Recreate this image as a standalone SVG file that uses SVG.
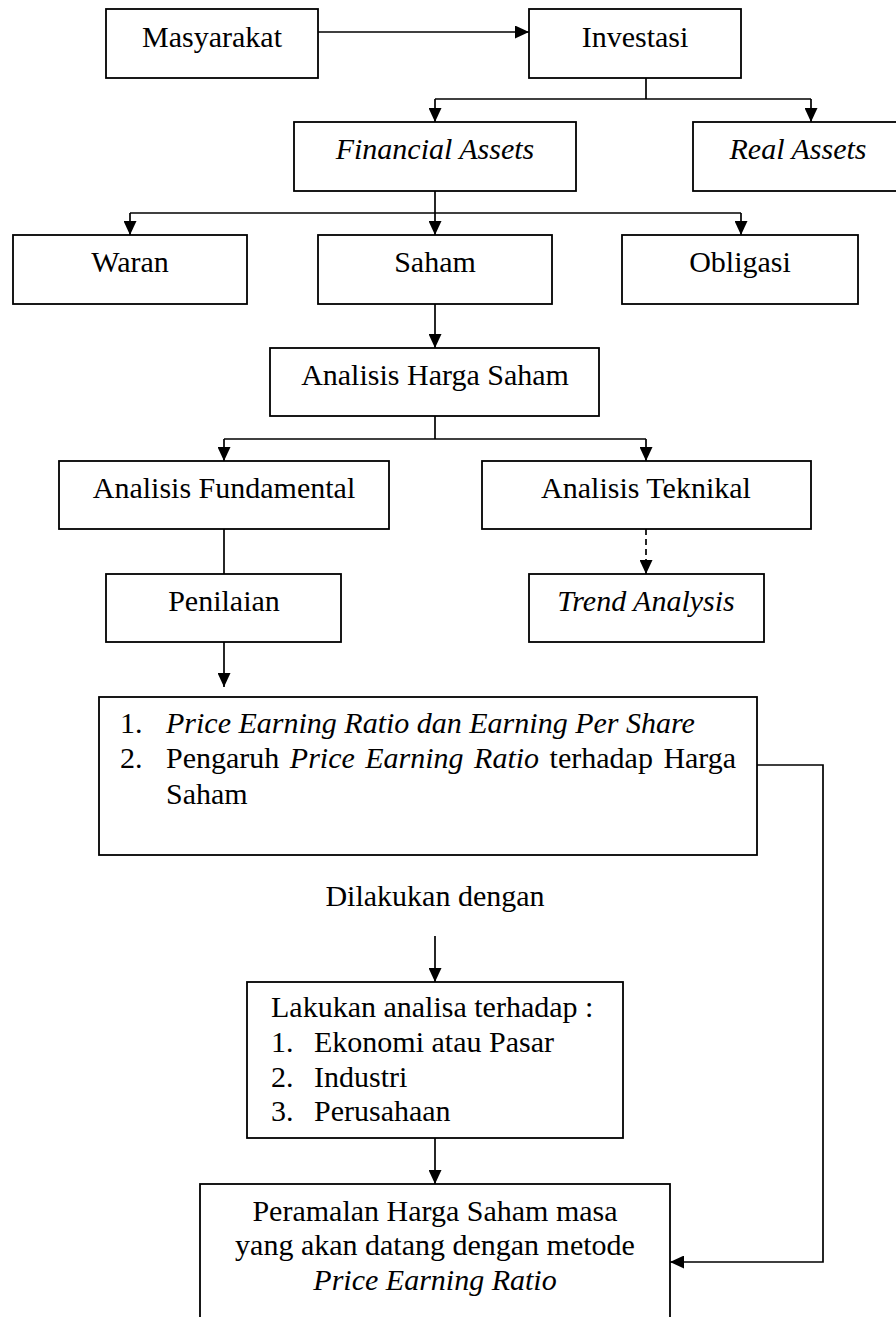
<svg xmlns="http://www.w3.org/2000/svg" width="896" height="1317" viewBox="0 0 896 1317">
<defs>
<style>
.box{fill:#fff;stroke:#000;stroke-width:1.8}
.ln{fill:none;stroke:#000;stroke-width:1.7}
.dash{fill:none;stroke:#000;stroke-width:1.7;stroke-dasharray:6 4}
text{font-family:"Liberation Serif","Times New Roman",serif;font-size:30px;fill:#000}
.c{text-anchor:middle}
.i{font-style:italic}
</style>
<marker id="ah" viewBox="0 0 14 13" refX="14" refY="6.5" markerWidth="14" markerHeight="13" markerUnits="userSpaceOnUse" orient="auto">
<path d="M0,0 L14,6.5 L0,13 Z" fill="#000"/>
</marker>
</defs>
<rect width="896" height="1317" fill="#fff"/>
<g id="connectors">
<path class="ln" d="M318,32 H529" marker-end="url(#ah)"/>
<path class="ln" d="M646,78 V99"/>
<path class="ln" d="M435,99 H811"/>
<path class="ln" d="M435,99 V122" marker-end="url(#ah)"/>
<path class="ln" d="M811,99 V122" marker-end="url(#ah)"/>
<path class="ln" d="M435,191 V213"/>
<path class="ln" d="M130,213 H741"/>
<path class="ln" d="M130,213 V235" marker-end="url(#ah)"/>
<path class="ln" d="M435,213 V235" marker-end="url(#ah)"/>
<path class="ln" d="M741,213 V235" marker-end="url(#ah)"/>
<path class="ln" d="M435,304 V348" marker-end="url(#ah)"/>
<path class="ln" d="M435,416 V439"/>
<path class="ln" d="M224,439 H646"/>
<path class="ln" d="M224,439 V461" marker-end="url(#ah)"/>
<path class="ln" d="M646,439 V461" marker-end="url(#ah)"/>
<path class="ln" d="M224,529 V574"/>
<path class="dash" d="M646,529 V574" marker-end="url(#ah)"/>
<path class="ln" d="M224,642 V687" marker-end="url(#ah)"/>
<path class="ln" d="M757,765 H823 V1262 H670" marker-end="url(#ah)"/>
<path class="ln" d="M435,936 V982" marker-end="url(#ah)"/>
<path class="ln" d="M435,1138 V1184" marker-end="url(#ah)"/>
</g>
<g id="masyarakat"><rect class="box" x="106" y="9" width="212" height="69"/><text class="c" x="212" y="47">Masyarakat</text></g>
<g id="investasi"><rect class="box" x="529" y="9" width="212" height="69"/><text class="c" x="635" y="47">Investasi</text></g>
<g id="financial-assets"><rect class="box" x="294" y="122" width="282" height="69"/><text class="c i" x="435" y="159">Financial Assets</text></g>
<g id="real-assets"><rect class="box" x="693" y="122" width="212" height="69"/><text class="c i" x="798" y="159">Real Assets</text></g>
<g id="waran"><rect class="box" x="13" y="235" width="234" height="69"/><text class="c" x="130" y="272">Waran</text></g>
<g id="saham"><rect class="box" x="318" y="235" width="234" height="69"/><text class="c" x="435" y="272">Saham</text></g>
<g id="obligasi"><rect class="box" x="622" y="235" width="236" height="69"/><text class="c" x="740" y="272">Obligasi</text></g>
<g id="analisis-harga-saham"><rect class="box" x="270" y="348" width="329" height="68"/><text class="c" x="435" y="385">Analisis Harga Saham</text></g>
<g id="analisis-fundamental"><rect class="box" x="59" y="461" width="330" height="68"/><text class="c" x="224" y="498">Analisis Fundamental</text></g>
<g id="analisis-teknikal"><rect class="box" x="482" y="461" width="329" height="68"/><text class="c" x="646" y="498">Analisis Teknikal</text></g>
<g id="penilaian"><rect class="box" x="106" y="574" width="235" height="68"/><text class="c" x="224" y="611">Penilaian</text></g>
<g id="trend-analysis"><rect class="box" x="529" y="574" width="235" height="68"/><text class="c i" x="646" y="611">Trend Analysis</text></g>
<g id="per-eps">
<rect class="box" x="99" y="697" width="658" height="158"/>
<text x="120" y="733">1.</text>
<text class="i" x="166" y="733">Price Earning Ratio dan Earning Per Share</text>
<text x="120" y="768">2.</text>
<text x="166" y="768" word-spacing="3">Pengaruh <tspan class="i">Price Earning Ratio</tspan> terhadap Harga</text>
<text x="166" y="804">Saham</text>
</g>
<g id="dilakukan-dengan"><text class="c" x="435" y="906">Dilakukan dengan</text></g>
<g id="lakukan-analisa">
<rect class="box" x="247" y="982" width="376" height="156"/>
<text x="271" y="1017">Lakukan analisa terhadap :</text>
<text x="271" y="1052">1.</text><text x="314" y="1052">Ekonomi atau Pasar</text>
<text x="271" y="1087">2.</text><text x="314" y="1087">Industri</text>
<text x="271" y="1121">3.</text><text x="314" y="1121">Perusahaan</text>
</g>
<g id="peramalan">
<rect class="box" x="200" y="1184" width="470" height="150"/>
<text class="c" x="435" y="1221">Peramalan Harga Saham masa</text>
<text class="c" x="435" y="1255">yang akan datang dengan metode</text>
<text class="c i" x="435" y="1290">Price Earning Ratio</text>
</g>
</svg>
